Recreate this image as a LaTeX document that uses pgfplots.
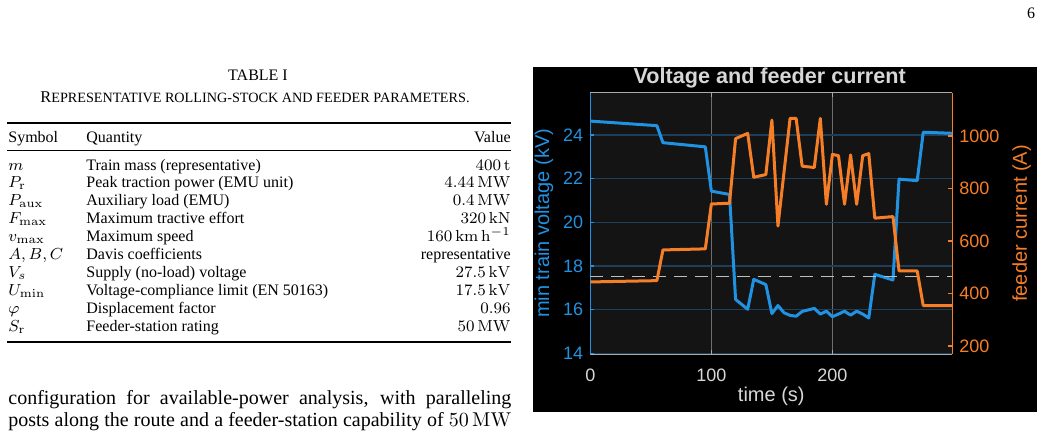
\documentclass[border=0pt]{standalone}
\usepackage[no-math]{fontspec}
\setmainfont{Liberation Serif}
\newfontfamily\chartfont{Liberation Sans}
\usepackage{pgfplots}
\usepackage{pgfplotstable}
\pgfplotsset{compat=1.18}
\definecolor{mblue}{RGB}{33,145,225}
\definecolor{morange}{RGB}{245,126,38}
\definecolor{axbg}{RGB}{20,20,20}
\definecolor{hgrid}{RGB}{30,62,90}
\definecolor{vgrid}{RGB}{110,110,110}
\definecolor{axgray}{RGB}{170,170,170}
\definecolor{txtgray}{RGB}{215,215,215}
\definecolor{dashgray}{RGB}{190,190,190}

\pgfplotstableread{
t V
0 24.64
55 24.43
60 23.65
95 23.46
100 21.43
115 21.28
120 16.47
130 16.02
135 17.39
145 17.15
150 15.82
155 16.19
160 15.86
165 15.74
170 15.70
175 15.92
185 16.06
190 15.80
195 15.93
200 15.68
205 15.80
210 15.93
215 15.75
220 15.93
225 15.80
230 15.62
235 17.62
250 17.36
255 21.98
270 21.91
275 24.13
299 24.08
}\voltdata

\pgfplotstableread{
t I
0 444
55 449
60 566
95 570
100 741
115 744
120 990
130 1010
135 843
145 853
150 1061
155 657
165 1067
170 1067
175 885
185 880
190 1067
195 740
200 930
205 925
210 740
215 928
220 740
225 925
230 933
235 687
250 693
255 486
270 486
275 354
299 354
}\currdata

\newcommand{\tf}{\fontsize{8}{9.5}\selectfont}
\begin{document}
\begin{tikzpicture}
\useasboundingbox (0pt,0pt) rectangle (520.5pt,218pt);
\fill[white] (0pt,0pt) rectangle (520.5pt,218pt);
\begin{scope}[x=0.5pt,y=0.5pt]
% page number
\node[font=\fontsize{8}{9}\selectfont] at (1031,423) {6};
% table caption
\node[font=\tf] at (258,361) {TABLE I};
\node at (255,339) {{\fontsize{8.2}{9.5}\selectfont R}{\fontsize{7.1}{9.5}\selectfont EPRESENTATIVE ROLLING-STOCK AND FEEDER PARAMETERS.}};
% rules
\draw[line width=0.9pt] (7,313) -- (511,313);
\draw[line width=0.5pt] (7,286) -- (511,286);
\draw[line width=0.9pt] (7,94) -- (511,94);
% header
\node[font=\tf, anchor=base west, inner sep=0pt] at (8,294) {Symbol};
\node[font=\tf, anchor=base west, inner sep=0pt] at (86,294) {Quantity};
\node[font=\tf, anchor=base east, inner sep=0pt] at (511,294) {Value};
% rows
\foreach \i/\s/\q/\v in {
 0/{$m$}/{Train mass (representative)}/{$400\,\mathrm{t}$},
 1/{$P_\mathrm{r}$}/{Peak traction power (EMU unit)}/{$4.44\,\mathrm{MW}$},
 2/{$P_\mathrm{aux}$}/{Auxiliary load (EMU)}/{$0.4\,\mathrm{MW}$},
 3/{$F_\mathrm{max}$}/{Maximum tractive effort}/{$320\,\mathrm{kN}$},
 4/{$v_\mathrm{max}$}/{Maximum speed}/{$160\,\mathrm{km\,h^{-1}}$},
 5/{$A,B,C$}/{Davis coefficients}/{representative},
 6/{$V_s$}/{Supply (no-load) voltage}/{$27.5\,\mathrm{kV}$},
 7/{$U_\mathrm{min}$}/{Voltage-compliance limit (EN 50163)}/{$17.5\,\mathrm{kV}$},
 8/{$\varphi$}/{Displacement factor}/{$0.96$},
 9/{$S_\mathrm{r}$}/{Feeder-station rating}/{$50\,\mathrm{MW}$}}{
 \pgfmathsetmacro{\yy}{436-170-17.9*\i}
 \node[font=\tf, anchor=base west, inner sep=0pt] at (8,\yy) {\s};
 \node[font=\tf, anchor=base west, inner sep=0pt] at (86,\yy) {\q};
 \node[font=\tf, anchor=base east, inner sep=0pt] at (511,\yy) {\v};
}
% body text
\node[anchor=base west, inner sep=0pt, font=\fontsize{10}{12}\selectfont] at (8,32) {\makebox[251.5pt][s]{configuration for available-power analysis, with paralleling}};
\node[anchor=base west, inner sep=0pt, font=\fontsize{10}{12}\selectfont] at (8,10) {\makebox[251.5pt][s]{posts along the route and a feeder-station capability of $50\,\mathrm{MW}$}};
% chart panel
\fill[black] (533,24) rectangle (1037,369);
\node[font=\chartfont\bfseries\fontsize{10.8}{12}\selectfont, text=txtgray] at (769.7,357.7) {Voltage and feeder current};
\end{scope}
\begin{axis}[
  at={(295.15pt,41pt)}, anchor=south west,
  scale only axis, width=181pt, height=130.65pt,
  xmin=0, xmax=299, ymin=13.97, ymax=25.94,
  axis background/.style={fill=axbg},
  separate axis lines,
  xtick={0,100,200}, ytick={14,16,18,20,22,24},
  xmajorgrids, ymajorgrids,
  x grid style={vgrid, line width=0.5pt},
  y grid style={hgrid, line width=0.6pt},
  x axis line style={axgray, line width=0.5pt},
  y axis line style={mblue, line width=0.6pt},
  ytick pos=left,
  tick align=inside,
  major tick length=2pt,
  xtick style={axgray}, ytick style={mblue, line width=0.6pt},
  ticklabel style={font=\chartfont\fontsize{9}{10}\selectfont},
  xticklabel style={txtgray, yshift=-4pt},
  yticklabel style={mblue},
  /pgf/number format/assume math mode=true,
  xlabel={time (s)}, ylabel={min train voltage (kV)},
  label style={font=\chartfont\fontsize{10}{11}\selectfont},
  xlabel style={txtgray, at={(rel axis cs:0.5,-0.1634)}, anchor=center},
  ylabel style={mblue, at={(rel axis cs:-0.128,0.5)}, anchor=center},
]
\addplot[mblue, line width=1.5pt, line join=round] table[x=t,y=V] {\voltdata};
\addplot[dashgray, line width=0.45pt, dash pattern=on 6.5pt off 4pt] coordinates {(0,17.5) (299,17.5)};
\end{axis}
\begin{axis}[
  at={(295.15pt,41pt)}, anchor=south west,
  scale only axis, width=181pt, height=130.65pt,
  xmin=0, xmax=299, ymin=169.5, ymax=1165,
  axis x line=none, axis y line*=right,
  ytick={200,400,600,800,1000},
  y axis line style={morange, line width=0.6pt},
  ytick style={morange, line width=0.6pt},
  tick align=inside, major tick length=2pt,
  yticklabel style={morange, font=\chartfont\fontsize{9}{10}\selectfont},
  /pgf/number format/1000 sep={},
  /pgf/number format/assume math mode=true,
  ylabel={feeder current (A)},
  ylabel style={morange, font=\chartfont\fontsize{10}{11}\selectfont, at={(rel axis cs:1.1917,0.5)}, anchor=center},
]
\addplot[morange, line width=1.5pt, line join=round] table[x=t,y=I] {\currdata};
\end{axis}
\end{tikzpicture}
\end{document}
